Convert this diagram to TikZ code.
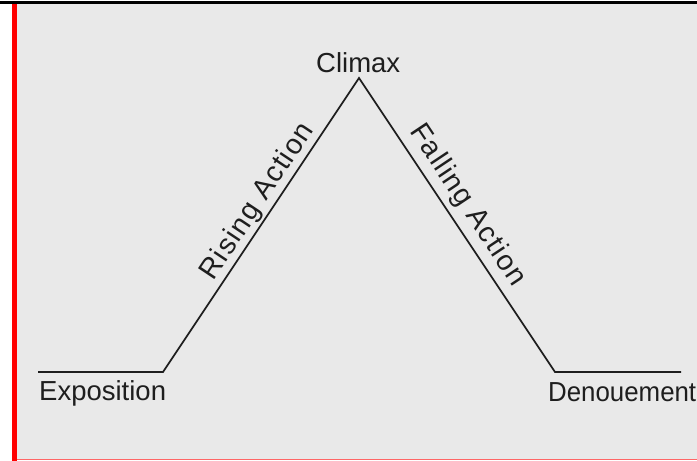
\documentclass[tikz,border=0pt]{standalone}
\usepackage{fontspec}
\setmainfont{Liberation Sans}
\definecolor{panel}{HTML}{E9E9E9}
\definecolor{ink}{HTML}{1E1E1E}
\definecolor{edgered}{HTML}{FF0000}
\definecolor{lightred}{HTML}{FF6666}
\begin{document}
\begin{tikzpicture}[x=1pt,y=1pt,
  plot/.style={draw=ink, line width=1.7pt, line join=miter},
  lbl/.style={text=ink, inner sep=0pt, font=\fontsize{27.5}{32}\selectfont},
  slopelbl/.style={lbl, sloped, anchor=south, font=\fontsize{28.5}{32}\selectfont\addfontfeature{LetterSpace=5}}]
\useasboundingbox (0,0) rectangle (697,-461);
\clip (0,0) rectangle (697,-461);
\fill[white] (0,0) rectangle (697,-461);
\fill[panel] (17,-3.5) rectangle (697,-459);
\fill[black] (0,-1) rectangle (697,-3.5);
\fill[edgered] (12,-3.5) rectangle (17,-461);
\fill[lightred] (17,-459) rectangle (697,-460.3);
\coordinate (e0) at (38,-372);
\coordinate (e1) at (163,-372);
\coordinate (apex) at (359,-78);
\coordinate (d0) at (555,-372);
\coordinate (d1) at (681,-372);
\draw[plot] (e0) -- (e1) -- (apex) -- (d0) -- (d1);
\path (e1) -- node[slopelbl, pos=0.55, inner ysep=2pt] (rise) {Rising Action} (apex);
\path (apex) -- node[slopelbl, pos=0.47, inner ysep=6pt] (fall) {Falling Action} (d0);
\node[lbl, anchor=base west] (expo) at (39,-400) {Exposition};
\node[lbl, anchor=base west] (clim) at (316,-72) {Climax};
\node[lbl, anchor=base west, xscale=0.94, transform shape] (deno) at (548,-401) {Denouement};
\end{tikzpicture}
\end{document}
